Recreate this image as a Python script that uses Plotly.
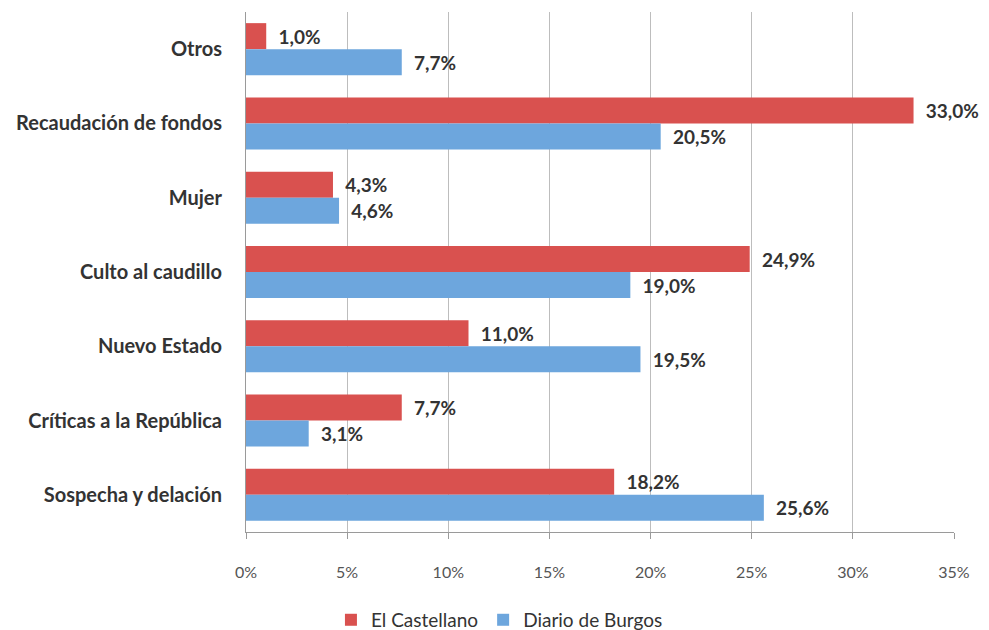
import plotly.graph_objects as go

categories = ["Otros", "Recaudación de fondos", "Mujer", "Culto al caudillo",
              "Nuevo Estado", "Críticas a la República", "Sospecha y delación"]
el_castellano = [1.0, 33.0, 4.3, 24.9, 11.0, 7.7, 18.2]
diario_burgos = [7.7, 20.5, 4.6, 19.0, 19.5, 3.1, 25.6]
tick_vals = [0, 5, 10, 15, 20, 25, 30, 35]
tick_text = ["0%", "5%", "10%", "15%", "20%", "25%", "30%", "35%"]

RED = "#D9514F"
BLUE = "#6DA6DD"
FONT = "Lato, 'Open Sans', sans-serif"

def lab(v):
    return "  " + f"{v:.1f}".replace(".", ",") + "%"

fig = go.Figure()
fig.add_trace(go.Bar(
    y=categories, x=el_castellano, orientation="h", name="El Castellano",
    marker=dict(color=RED, line=dict(width=0)),
    text=[lab(v) for v in el_castellano], textposition="outside",
    textfont=dict(family=FONT, size=19, color="#333333", weight="bold"),
    cliponaxis=False,
))
fig.add_trace(go.Bar(
    y=categories, x=diario_burgos, orientation="h", name="Diario de Burgos",
    marker=dict(color=BLUE, line=dict(width=0)),
    text=[lab(v) for v in diario_burgos], textposition="outside",
    textfont=dict(family=FONT, size=19, color="#333333", weight="bold"),
    cliponaxis=False,
))

fig.update_layout(
    width=989, height=630,
    margin=dict(l=246, r=35, t=12, b=98),
    paper_bgcolor="white", plot_bgcolor="white",
    barmode="group", bargap=0.3, bargroupgap=0.0,
    font=dict(family=FONT),
    showlegend=True,
    legend=dict(orientation="h", x=0.505, xref="container", xanchor="center",
                y=0.016, yref="container", yanchor="middle",
                font=dict(family=FONT, size=19, color="#333333"),
                itemwidth=30, traceorder="normal"),
    xaxis=dict(range=[0, 35], tickvals=tick_vals, ticktext=tick_text,
               showgrid=True, gridcolor="#BDBDBD", gridwidth=1,
               showline=True, linecolor="#9A9A9A", linewidth=1,
               ticks="outside", ticklen=6, tickcolor="#9A9A9A",
               ticklabelstandoff=20,
               tickfont=dict(family=FONT, size=16, color="#555555"),
               zeroline=False),
    yaxis=dict(autorange="reversed", showline=True, linecolor="#9A9A9A",
               linewidth=1, ticks="", ticklabelstandoff=19,
               tickfont=dict(family=FONT, size=20, color="#333333", weight="bold"),
               showgrid=False),
)

fig.write_html("out.html")
